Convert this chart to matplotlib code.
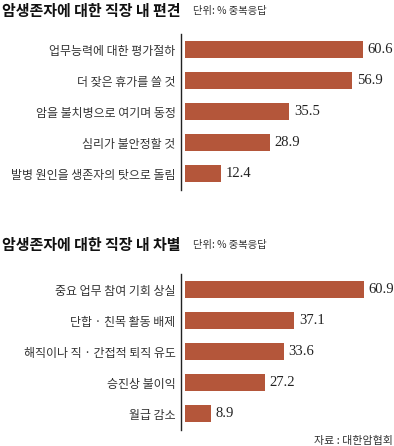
import matplotlib.pyplot as plt

plt.rcParams['font.family'] = ['Noto Sans CJK KR', 'DejaVu Sans']

# 편견 (prejudice)
prejudice_labels = ['업무능력에 대한 평가절하', '더 잦은 휴가를 쓸 것', '암을 불치병으로 여기며 동정',
                    '심리가 불안정할 것', '발병 원인을 생존자의 탓으로 돌림']
prejudice_values = [60.6, 56.9, 35.5, 28.9, 12.4]

# 차별 (discrimination)
discrim_labels = ['중요 업무 참여 기회 상실', '단합 · 친목 활동 배제', '해직이나 직 · 간접적 퇴직 유도',
                  '승진상 불이익', '월급 감소']
discrim_values = [60.9, 37.1, 33.6, 27.2, 8.9]

W, H = 394, 446
bar_color = '#b4563a'

fig = plt.figure(figsize=(W / 100, H / 100), dpi=100)


def panel(top, labels, values):
    # axes placed in pixel units (top-down)
    ax = fig.add_axes([181 / W, (H - top - 156) / H, 213 / W, 156 / H])
    pos = range(len(values))
    ax.barh(pos, values, height=0.55, color=bar_color)
    ax.set_xlim(-1.36, 71.1)
    ax.set_ylim(4.53, -0.5)
    for s in ['top', 'right', 'bottom']:
        ax.spines[s].set_visible(False)
    ax.spines['left'].set_color('#222222')
    ax.spines['left'].set_linewidth(1.0)
    ax.set_xticks([])
    ax.set_yticks(list(pos))
    ax.set_yticklabels(labels, fontsize=8.6, color='#333333', fontweight='light')
    ax.tick_params(axis='y', length=0, pad=4)
    for i, v in enumerate(values):
        ax.text(v + 1.6, i, f'{v}', va='center', ha='left', fontsize=10.5,
                family='Liberation Serif', color='#222222')
    return ax


panel(34, prejudice_labels, prejudice_values)
panel(274, discrim_labels, discrim_values)

fig.text(2 / W, 1 - 11 / H, '암생존자에 대한 직장 내 편견', fontsize=10.8, fontweight='black',
         va='center', ha='left', color='#111111')
fig.text(193 / W, 1 - 11 / H, '단위: % 중복응답', fontsize=7.4, va='center', ha='left', color='#333333')
fig.text(2 / W, 1 - 245 / H, '암생존자에 대한 직장 내 차별', fontsize=10.8, fontweight='black',
         va='center', ha='left', color='#111111')
fig.text(193 / W, 1 - 245 / H, '단위: % 중복응답', fontsize=7.4, va='center', ha='left', color='#333333')
fig.text(393 / W, 1 - 441 / H, '자료 : 대한암협회', fontsize=7.9, va='center', ha='right', color='#333333')

fig.savefig('out.png', dpi=100)
